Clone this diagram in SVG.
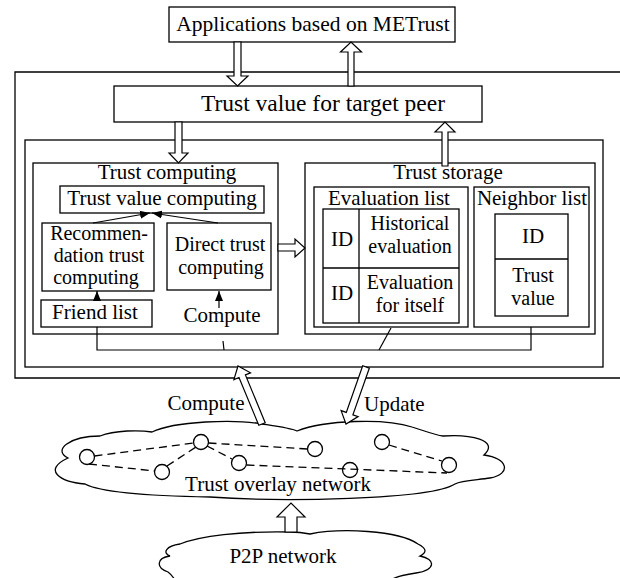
<svg xmlns="http://www.w3.org/2000/svg" width="620" height="578" viewBox="0 0 620 578">
<style>
text{font-family:"Liberation Serif","Times New Roman",serif;font-size:21px;fill:#000;text-anchor:middle}
.m{font-size:20px}
.b{fill:#fff;stroke:#000;stroke-width:1.3}
.n{fill:none;stroke:#000;stroke-width:1.3}
.blk{fill:#fff;stroke:#000;stroke-width:1.2;stroke-linejoin:miter}
.ln{fill:none;stroke:#000;stroke-width:1.2}
.d{fill:none;stroke:#000;stroke-width:1.3;stroke-dasharray:8 5}
.c{fill:none;stroke:#000;stroke-width:1.3}
</style>
<defs>
<marker id="ah" markerUnits="userSpaceOnUse" markerWidth="10" markerHeight="10" viewBox="0 0 10 10" refX="10" refY="5" orient="auto">
<path d="M0,1 L10,5 L0,9 Z" fill="#000"/>
</marker>
</defs>
<rect width="620" height="578" fill="#fff"/>

<g id="system">
<path class="n" d="M625,72 H15 V378 H625"/>
<rect class="n" x="25" y="140" width="578" height="227"/>
</g>

<g id="apps">
<rect class="b" x="169" y="7" width="286" height="35"/>
<text x="313" y="31" style="font-size:21.5px">Applications based on METrust</text>
</g>

<g id="target">
<rect class="b" x="114" y="86" width="368" height="36"/>
<text x="323" y="111" style="font-size:23.5px">Trust value for target peer</text>
</g>

<g id="trust-computing">
<rect class="n" x="33" y="163" width="245" height="171"/>
<text x="167" y="179">Trust computing</text>
</g>
<g id="tvc">
<rect class="n" x="60" y="186" width="204" height="27"/>
<text x="162" y="205">Trust value computing</text>
</g>
<g id="recommendation">
<rect class="n" x="42" y="223" width="112" height="68"/>
<text class="m"><tspan x="99" y="240">Recommen-</tspan><tspan x="99" y="262">dation trust</tspan><tspan x="96" y="284">computing</tspan></text>
</g>
<g id="direct">
<rect class="n" x="167" y="223" width="104" height="67"/>
<text class="m"><tspan x="220" y="251">Direct trust</tspan><tspan x="221" y="274">computing</tspan></text>
</g>
<g id="friend">
<rect class="n" x="41" y="300" width="111" height="27"/>
<text x="95" y="319">Friend list</text>
</g>
<g id="compute-local">
<text x="222" y="322">Compute</text>
</g>

<g id="trust-storage">
<rect class="n" x="305" y="163" width="290" height="171"/>
<text x="448" y="179">Trust storage</text>
</g>
<g id="evaluation-list">
<rect class="n" x="314" y="187" width="154" height="140"/>
<text x="389" y="205">Evaluation list</text>
<rect class="n" x="323" y="209" width="136" height="114"/>
<line class="n" x1="359" y1="209" x2="359" y2="323"/>
<line class="n" x1="323" y1="268" x2="459" y2="268"/>
<text x="342" y="246">ID</text>
<text class="m"><tspan x="410" y="230">Historical</tspan><tspan x="410" y="253">evaluation</tspan></text>
<text x="342" y="300">ID</text>
<text class="m"><tspan x="410" y="289">Evaluation</tspan><tspan x="410" y="312">for itself</tspan></text>
</g>
<g id="neighbor-list">
<rect class="n" x="474" y="187" width="115" height="140"/>
<text x="532" y="205">Neighbor list</text>
<rect class="n" x="495" y="214" width="73" height="102"/>
<line class="n" x1="495" y1="259" x2="568" y2="259"/>
<text x="533" y="243">ID</text>
<text class="m"><tspan x="533" y="282">Trust</tspan><tspan x="533" y="305">value</tspan></text>
</g>

<g id="overlay">
<path class="n" d="M68,458 C52,450 70,436 100,436 C115,430 140,430 152,432 C175,421 235,419 262,424 C275,426 290,428 297,431 C325,420 385,418 412,427 C425,431 435,435 443,436 C470,434 500,440 484,455 C508,458 512,474 490,478 C478,480 462,480 455,484 C430,500 280,502 210,497 C150,496 100,492 85,484 C60,482 42,470 68,458 Z"/>
<circle class="c" cx="87" cy="457" r="7.5"/>
<circle class="c" cx="162" cy="472" r="7.5"/>
<circle class="c" cx="201" cy="442" r="7.5"/>
<circle class="c" cx="239" cy="463" r="7.5"/>
<circle class="c" cx="315" cy="449" r="7.5"/>
<circle class="c" cx="382" cy="442" r="7.5"/>
<circle class="c" cx="350" cy="470" r="7.5"/>
<circle class="c" cx="449" cy="465" r="7.5"/>
<line class="d" x1="94.5" y1="456" x2="193.5" y2="443"/>
<line class="d" x1="89" y1="464" x2="155" y2="471"/>
<line class="d" x1="167" y1="466" x2="196" y2="447"/>
<line class="d" x1="208.5" y1="443" x2="307.5" y2="449"/>
<line class="d" x1="207" y1="446" x2="232" y2="459"/>
<line class="d" x1="246.5" y1="465" x2="447" y2="473"/>
<line class="d" x1="389" y1="445" x2="442" y2="461"/>
<text x="278" y="491">Trust overlay network</text>
</g>

<g id="p2p">
<path class="n" d="M176,582 C174,578 172,575 168,572 C156,568 156,558 170,556 C162,553 166,546 180,544 C200,536 240,531 290,532 C300,532 305,533 310,534 C340,528 398,530 418,544 C428,549 426,553 420,556 C436,559 436,570 416,573 C402,575 393,577 388,582 Z"/>
<text x="283" y="563">P2P network</text>
</g>

<g id="connectors">
<polygon class="blk" points="234,42 241,42 241,76 248,76 237.5,86 227,76 234,76"/>
<polygon class="blk" points="348,86 354,86 354,52 361.5,52 351,42 340.5,52 348,52"/>
<polygon class="blk" points="175,122 182,122 182,153 188,153 178.5,163 169,153 175,153"/>
<polygon class="blk" points="442,166 448,166 448,132 455,132 445,122 435,132 442,132"/>
<polygon class="blk" points="278,244 295,244 295,239 305,248 295,257 295,251 278,251"/>
<polygon class="blk" points="285,532 297,532 297,517 305,517 291,503 277,517 285,517"/>
<polygon class="blk" points="265.2,422.7 245.4,374.9 250.5,372.8 238,366 233.9,379.6 239,377.5 258.8,425.3"/>
<polygon class="blk" points="369.3,368.2 352.9,414.8 358.1,416.6 346,424 341.1,410.6 346.3,412.4 362.7,365.8"/>
<line class="ln" x1="93" y1="223" x2="150" y2="213" marker-end="url(#ah)"/>
<line class="ln" x1="218" y1="223" x2="152" y2="213" marker-end="url(#ah)"/>
<line class="ln" x1="97" y1="300" x2="97" y2="291" marker-end="url(#ah)"/>
<line class="ln" x1="219" y1="308" x2="219" y2="291" marker-end="url(#ah)"/>
<polyline class="ln" points="97,327 97,350 531,350 531,327"/>
<line class="ln" x1="223" y1="341" x2="224" y2="350"/>
<line class="ln" x1="391" y1="328" x2="379" y2="350"/>
<text x="206" y="410">Compute</text>
<text x="364" y="411" style="text-anchor:start">Update</text>
</g>
</svg>
